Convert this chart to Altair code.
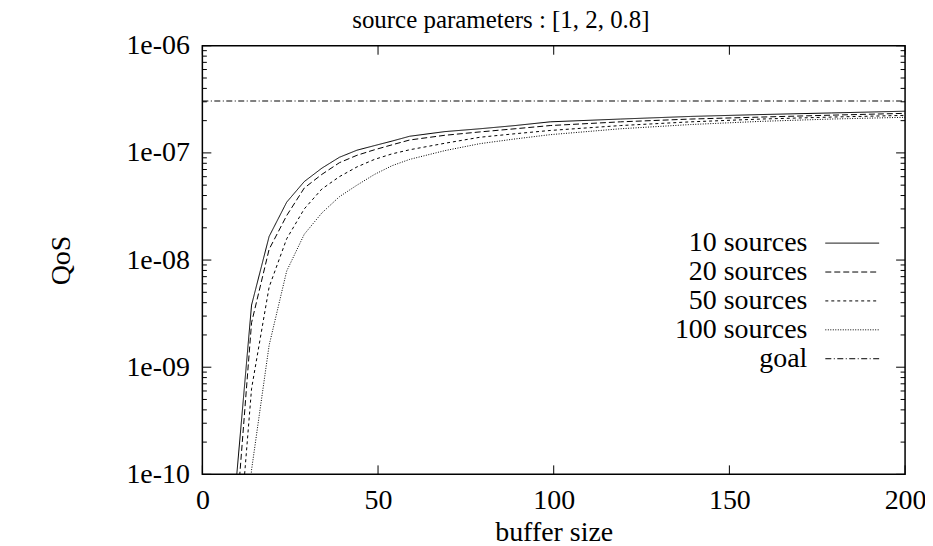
import altair as alt
import pandas as pd

# ---- data ----
buffer = [9, 14, 19, 24, 29, 34, 39, 44, 49, 54, 59, 69, 79, 89, 99, 119, 139, 159, 179, 200]
qos_10 = [5e-11, 3.8e-9, 1.66e-8, 3.47e-8, 5.4e-8, 7.2e-8, 9.1e-8, 1.06e-7, 1.17e-7, 1.29e-7,
          1.43e-7, 1.58e-7, 1.68e-7, 1.80e-7, 1.95e-7, 2.07e-7, 2.19e-7, 2.28e-7, 2.36e-7, 2.45e-7]
qos_20 = [2e-11, 2.6e-9, 1.26e-8, 2.6e-8, 4.7e-8, 6.3e-8, 8.1e-8, 9.5e-8, 1.07e-7, 1.19e-7,
          1.32e-7, 1.46e-7, 1.57e-7, 1.68e-7, 1.80e-7, 1.95e-7, 2.07e-7, 2.16e-7, 2.25e-7, 2.34e-7]
qos_50 = [6e-12, 6.3e-10, 5.6e-9, 1.58e-8, 3.0e-8, 4.6e-8, 6.0e-8, 7.4e-8, 8.7e-8, 9.8e-8,
          1.07e-7, 1.23e-7, 1.40e-7, 1.51e-7, 1.62e-7, 1.80e-7, 1.95e-7, 2.07e-7, 2.16e-7, 2.24e-7]
qos_100 = [1e-12, 1.1e-10, 1.6e-9, 7.9e-9, 1.74e-8, 2.75e-8, 3.9e-8, 5.0e-8, 6.3e-8, 7.6e-8,
           8.7e-8, 1.05e-7, 1.22e-7, 1.35e-7, 1.48e-7, 1.68e-7, 1.84e-7, 1.97e-7, 2.07e-7, 2.15e-7]
goal_x = [0, 200]
goal_value = 3.05e-7

series_names = ["10 sources", "20 sources", "50 sources", "100 sources", "goal"]
dash_patterns = [[1, 0], [6, 3], [3, 3], [1, 1.5], [6, 2.5, 1, 2.5]]

x_ticks = [0, 50, 100, 150, 200]
y_major = [1e-10, 1e-9, 1e-8, 1e-7, 1e-6]
y_labels = ["1e-10", "1e-09", "1e-08", "1e-07", "1e-06"]
y_minor = [k * 10.0 ** e for e in range(-10, -6) for k in range(2, 10)]

# ---- build table ----
rows = []
for name, vals in zip(series_names[:4], [qos_10, qos_20, qos_50, qos_100]):
    for b, v in zip(buffer, vals):
        rows.append({"buffer": b, "qos": v, "series": name})
for b in goal_x:
    rows.append({"buffer": b, "qos": goal_value, "series": "goal"})
df = pd.DataFrame(rows)

W, H = 705, 430
FONT = "Liberation Serif"
FS = 28

xscale = alt.Scale(domain=[0, 200], nice=False, zero=False)
yscale = alt.Scale(type="log", domain=[1e-10, 1e-6], nice=False)

label_expr = "[" + ",".join(f"'{l}'" for l in y_labels) + "][round(log(datum.value)/LN10)+10]"

x_axis = alt.Axis(values=x_ticks, title="buffer size", ticks=False, tickSize=0, domain=False,
                  grid=False, labelFont=FONT, labelFontSize=FS, labelColor="black",
                  labelPadding=12, labelFlush=False, titleFont=FONT, titleFontSize=FS,
                  titleFontWeight="normal", titleColor="black", titleY=66,
                  titleBaseline="alphabetic")
y_axis = alt.Axis(values=y_major, labelExpr=label_expr, title="QoS", ticks=False, tickSize=0,
                  domain=False, grid=False, labelFont=FONT, labelFontSize=FS,
                  labelColor="black", labelPadding=13, labelFlush=False, titleFont=FONT,
                  titleFontSize=FS, titleFontWeight="normal", titleColor="black",
                  titleX=-141, titleY=215, titleAlign="center", titleBaseline="middle",
                  titleAngle=270)

lines = alt.Chart(df).mark_line(clip=True, strokeWidth=1, color="black").encode(
    x=alt.X("buffer:Q", scale=xscale, axis=x_axis),
    y=alt.Y("qos:Q", scale=yscale, axis=y_axis),
    strokeDash=alt.StrokeDash("series:N",
                              scale=alt.Scale(domain=series_names, range=dash_patterns),
                              legend=alt.Legend(title=None, orient="none", legendX=579, legendY=184,
                                                padding=0, symbolType="M6.4,0H17.2", symbolSize=100,
                                                symbolStrokeWidth=1, symbolStrokeColor="black",
                                                labelFont=FONT, labelFontSize=FS, labelColor="black",
                                                labelAlign="right", labelOffset=0,
                                                labelBaseline="middle", rowPadding=1, labelLimit=0)),
)

ymaj_df = pd.DataFrame({"v": y_major})
ymin_df = pd.DataFrame({"v": y_minor})
xt_df = pd.DataFrame({"v": x_ticks})


def ytick(data, x0, x1):
    return alt.Chart(data).mark_rule(color="black", strokeWidth=1).encode(
        y=alt.Y("v:Q", scale=yscale, axis=y_axis),
        x=alt.value(x0), x2=alt.value(x1))


def xtick(data, y0, y1):
    return alt.Chart(data).mark_rule(color="black", strokeWidth=1).encode(
        x=alt.X("v:Q", scale=xscale, axis=x_axis),
        y=alt.value(y0), y2=alt.value(y1))


chart = alt.layer(
    lines,
    ytick(ymaj_df, 0, 9), ytick(ymin_df, 0, 4.5),
    ytick(ymaj_df, W - 9, W), ytick(ymin_df, W - 4.5, W),
    xtick(xt_df, 0, 9), xtick(xt_df, H - 9, H),
).properties(
    width=W, height=H,
    title=alt.TitleParams(text="source parameters : [1, 2, 0.8]", font=FONT, fontSize=25,
                          fontWeight="normal", color="black", anchor="middle",
                          dx=-53, dy=3, offset=2),
    autosize=alt.AutoSizeParams(type="none"),
    padding={"left": 195, "top": 37, "right": 20, "bottom": 71},
).configure_view(stroke="black", strokeWidth=1.5)

chart.save("out.html", embed_options={"renderer": "svg", "actions": False})
